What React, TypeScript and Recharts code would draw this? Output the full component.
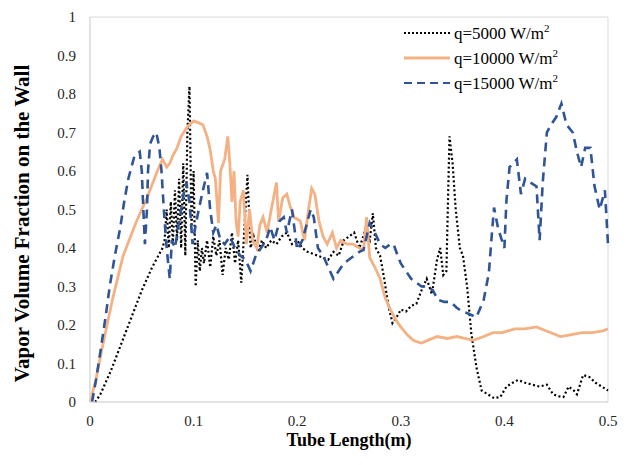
import { LineChart, Line, XAxis, YAxis, ReferenceArea } from 'recharts';

// q = 5000 W/m2 (dotted black)
const q5000X = [0.005, 0.01, 0.02, 0.03, 0.04, 0.05, 0.06, 0.07, 0.072, 0.074, 0.076, 0.078, 0.08, 0.082, 0.084, 0.086, 0.088, 0.09, 0.092, 0.094, 0.096, 0.098, 0.1, 0.102, 0.104, 0.106, 0.108, 0.11, 0.113, 0.116, 0.119, 0.122, 0.125, 0.128, 0.131, 0.134, 0.137, 0.14, 0.143, 0.146, 0.149, 0.152, 0.155, 0.158, 0.162, 0.166, 0.17, 0.175, 0.18, 0.185, 0.19, 0.195, 0.2, 0.205, 0.21, 0.215, 0.22, 0.225, 0.23, 0.235, 0.24, 0.245, 0.25, 0.255, 0.26, 0.265, 0.27, 0.273, 0.276, 0.28, 0.284, 0.288, 0.292, 0.296, 0.3, 0.305, 0.31, 0.315, 0.32, 0.325, 0.33, 0.335, 0.338, 0.341, 0.344, 0.347, 0.35, 0.353, 0.357, 0.36, 0.364, 0.368, 0.373, 0.378, 0.384, 0.39, 0.396, 0.402, 0.408, 0.413, 0.42, 0.427, 0.434, 0.441, 0.447, 0.452, 0.457, 0.462, 0.467, 0.47, 0.476, 0.482, 0.488, 0.494, 0.5];
const q5000Y = [0, 0.02, 0.08, 0.15, 0.22, 0.29, 0.35, 0.4, 0.42, 0.5, 0.4, 0.52, 0.41, 0.55, 0.42, 0.58, 0.4, 0.62, 0.38, 0.7, 0.82, 0.45, 0.6, 0.3, 0.42, 0.34, 0.4, 0.36, 0.42, 0.35, 0.43, 0.38, 0.42, 0.33, 0.4, 0.37, 0.44, 0.36, 0.42, 0.31, 0.45, 0.59, 0.4, 0.43, 0.39, 0.42, 0.4, 0.42, 0.41, 0.43, 0.44, 0.41, 0.42, 0.4, 0.39, 0.385, 0.38, 0.375, 0.37, 0.39, 0.38, 0.42, 0.43, 0.44, 0.4, 0.44, 0.42, 0.49, 0.4, 0.38, 0.32, 0.25, 0.205, 0.22, 0.24, 0.235, 0.25, 0.255, 0.29, 0.32, 0.28, 0.37, 0.4, 0.33, 0.34, 0.69, 0.62, 0.5, 0.4, 0.38, 0.3, 0.18, 0.09, 0.03, 0.02, 0.01, 0.013, 0.04, 0.05, 0.057, 0.05, 0.045, 0.04, 0.045, 0.02, 0.015, 0.013, 0.04, 0.03, 0.02, 0.07, 0.065, 0.05, 0.04, 0.03];

// q = 10000 W/m2 (solid orange)
const q10000X = [0, 0.005, 0.0125, 0.022, 0.032, 0.045, 0.055, 0.065, 0.07, 0.074, 0.077, 0.08, 0.084, 0.088, 0.094, 0.1, 0.105, 0.109, 0.113, 0.116, 0.119, 0.121, 0.124, 0.126, 0.13, 0.133, 0.135, 0.137, 0.139, 0.141, 0.143, 0.145, 0.148, 0.151, 0.154, 0.157, 0.161, 0.164, 0.167, 0.171, 0.175, 0.18, 0.182, 0.186, 0.19, 0.193, 0.197, 0.203, 0.207, 0.211, 0.214, 0.217, 0.221, 0.225, 0.229, 0.234, 0.238, 0.242, 0.248, 0.254, 0.26, 0.264, 0.267, 0.27, 0.275, 0.28, 0.285, 0.29, 0.296, 0.3, 0.306, 0.312, 0.316, 0.32, 0.326, 0.335, 0.345, 0.354, 0.362, 0.37, 0.38, 0.389, 0.398, 0.41, 0.42, 0.431, 0.44, 0.454, 0.465, 0.475, 0.485, 0.495, 0.5];
const q10000Y = [0, 0.05, 0.15, 0.27, 0.38, 0.47, 0.53, 0.6, 0.63, 0.61, 0.62, 0.64, 0.66, 0.69, 0.715, 0.73, 0.725, 0.72, 0.69, 0.655, 0.6, 0.58, 0.465, 0.6, 0.63, 0.69, 0.62, 0.52, 0.6, 0.47, 0.43, 0.52, 0.55, 0.41, 0.5, 0.42, 0.4, 0.46, 0.48, 0.44, 0.5, 0.57, 0.47, 0.53, 0.54, 0.51, 0.48, 0.47, 0.42, 0.5, 0.555, 0.54, 0.47, 0.43, 0.41, 0.44, 0.4, 0.42, 0.41, 0.41, 0.4, 0.395, 0.48, 0.375, 0.35, 0.32, 0.27, 0.24, 0.21, 0.195, 0.175, 0.16, 0.156, 0.153, 0.16, 0.17, 0.165, 0.17, 0.165, 0.16, 0.17, 0.18, 0.18, 0.19, 0.19, 0.195, 0.185, 0.17, 0.175, 0.18, 0.18, 0.185, 0.19];

// q = 15000 W/m2 (dashed blue)
const q15000X = [0.002, 0.006, 0.01, 0.015, 0.019, 0.024, 0.029, 0.033, 0.037, 0.043, 0.048, 0.05, 0.051, 0.053, 0.055, 0.056, 0.058, 0.061, 0.064, 0.067, 0.069, 0.072, 0.074, 0.077, 0.079, 0.082, 0.085, 0.088, 0.091, 0.093, 0.096, 0.099, 0.102, 0.105, 0.109, 0.113, 0.116, 0.119, 0.122, 0.126, 0.13, 0.135, 0.14, 0.145, 0.15, 0.155, 0.16, 0.165, 0.17, 0.174, 0.178, 0.183, 0.187, 0.19, 0.195, 0.2, 0.205, 0.21, 0.213, 0.216, 0.22, 0.225, 0.23, 0.235, 0.24, 0.245, 0.25, 0.255, 0.26, 0.264, 0.27, 0.275, 0.28, 0.285, 0.29, 0.293, 0.297, 0.3, 0.305, 0.31, 0.315, 0.32, 0.325, 0.331, 0.336, 0.342, 0.348, 0.354, 0.359, 0.365, 0.373, 0.38, 0.385, 0.388, 0.39, 0.394, 0.4, 0.402, 0.405, 0.412, 0.416, 0.42, 0.425, 0.431, 0.434, 0.437, 0.441, 0.445, 0.45, 0.455, 0.46, 0.466, 0.47, 0.474, 0.478, 0.483, 0.487, 0.492, 0.497, 0.5];
const q15000Y = [0, 0.06, 0.13, 0.22, 0.3, 0.38, 0.45, 0.52, 0.58, 0.64, 0.65, 0.6, 0.53, 0.41, 0.5, 0.6, 0.67, 0.69, 0.7, 0.66, 0.6, 0.47, 0.4, 0.32, 0.42, 0.4, 0.45, 0.5, 0.55, 0.57, 0.52, 0.41, 0.46, 0.5, 0.55, 0.595, 0.5, 0.44, 0.46, 0.42, 0.41, 0.43, 0.4, 0.38, 0.37, 0.34, 0.38, 0.4, 0.42, 0.455, 0.42, 0.47, 0.48, 0.44, 0.5, 0.395, 0.42, 0.47, 0.5, 0.48, 0.4, 0.38, 0.35, 0.32, 0.34, 0.36, 0.37, 0.38, 0.39, 0.395, 0.465, 0.44, 0.41, 0.4, 0.41, 0.41, 0.38, 0.36, 0.34, 0.32, 0.31, 0.3, 0.3, 0.29, 0.265, 0.26, 0.26, 0.245, 0.235, 0.23, 0.22, 0.265, 0.335, 0.44, 0.505, 0.45, 0.4, 0.525, 0.61, 0.63, 0.54, 0.58, 0.57, 0.56, 0.42, 0.57, 0.7, 0.72, 0.74, 0.775, 0.72, 0.7, 0.65, 0.61, 0.66, 0.66, 0.56, 0.5, 0.55, 0.41];

const xTicks = [0, 0.1, 0.2, 0.3, 0.4, 0.5];
const yTicks = [0, 0.1, 0.2, 0.3, 0.4, 0.5, 0.6, 0.7, 0.8, 0.9, 1];

const toPoints = (xs: number[], ys: number[]) => xs.map((x, i) => ({ x, y: ys[i] }));

const series = [
    { name: '5000', data: toPoints(q5000X, q5000Y), color: '#000000', dash: '2 2.5', width: 2.2, legendDash: '2 2' },
    { name: '10000', data: toPoints(q10000X, q10000Y), color: '#F4B183', dash: undefined, width: 2.8, legendDash: undefined },
    { name: '15000', data: toPoints(q15000X, q15000Y), color: '#2F5597', dash: '9 6', width: 2.6, legendDash: '8 5' },
];

const serif = '"Liberation Serif", "Times New Roman", serif';
const tickStyle = { fontFamily: serif, fontSize: 15, fill: '#262626' };

function XTick({ x, y, payload }: any) {
    return (
        <text x={x} y={y + 8} textAnchor="middle" dominantBaseline="hanging" style={tickStyle}>
            {payload.value}
        </text>
    );
}

function YTick({ x, y, payload }: any) {
    return (
        <text x={x} y={y} textAnchor="end" dominantBaseline="central" style={tickStyle}>
            {payload.value}
        </text>
    );
}

function LegendBox() {
    return (
        <div style={{ position: 'absolute', left: 404, top: 20, background: '#fff', fontFamily: serif, fontSize: 17, color: '#000' }}>
            {series.map((s) => (
                <div key={s.name} style={{ display: 'flex', alignItems: 'center', height: 25 }}>
                    <svg width={46} height={10} style={{ marginRight: 4 }}>
                        <line x1={0} y1={5} x2={46} y2={5} stroke={s.color} strokeWidth={s.legendDash ? 2 : 3}
                            strokeDasharray={s.legendDash} />
                    </svg>
                    <span>q={s.name} W/m<sup style={{ fontSize: 11 }}>2</sup></span>
                </div>
            ))}
        </div>
    );
}

export default function App() {
    return (
        <div style={{ position: 'absolute', left: 0, top: 0, width: 629, height: 465, background: '#fff', fontFamily: serif }}>
            <LineChart width={629} height={465} margin={{ top: 17, right: 21, left: 0, bottom: 0 }}>
                <XAxis
                    dataKey="x"
                    type="number"
                    domain={[0, 0.5]}
                    ticks={xTicks}
                    allowDuplicatedCategory={false}
                    height={63}
                    axisLine={{ stroke: '#d9d9d9' }}
                    tickLine={false}
                    tickSize={0}
                    tickMargin={6}
                    tick={<XTick />}
                    label={{
                        content: ({ viewBox }: any) => (
                            <text x={viewBox.x + viewBox.width / 2} y={viewBox.y + 44} textAnchor="middle"
                                style={{ fontFamily: serif, fontWeight: 'bold', fontSize: 18, fill: '#000' }}>
                                Tube Length(m)
                            </text>
                        ),
                    }}
                />
                <YAxis
                    type="number"
                    domain={[0, 1]}
                    ticks={yTicks}
                    width={90}
                    axisLine={{ stroke: '#d9d9d9' }}
                    tickLine={false}
                    tickSize={0}
                    tickMargin={14}
                    tick={<YTick />}
                    label={{
                        content: ({ viewBox }: any) => {
                            const cx = viewBox.x + 22;
                            const cy = viewBox.y + viewBox.height / 2 + 14;
                            return (
                                <text x={cx} y={cy} transform={`rotate(-90, ${cx}, ${cy})`} textAnchor="middle"
                                    dominantBaseline="central"
                                    style={{ fontFamily: serif, fontWeight: 'bold', fontSize: 21, fill: '#000' }}>
                                    Vapor Volume Fraction on the Wall
                                </text>
                            );
                        },
                    }}
                />
                <ReferenceArea x1={0} x2={0.5} y1={0} y2={1} fill="none" stroke="#d9d9d9" strokeWidth={1} />
                {series.map((s) => (
                    <Line
                        key={s.name}
                        data={s.data}
                        dataKey="y"
                        name={s.name}
                        type="linear"
                        stroke={s.color}
                        strokeWidth={s.width}
                        strokeDasharray={s.dash}
                        dot={false}
                        activeDot={false}
                        isAnimationActive={false}
                    />
                ))}
            </LineChart>
            <LegendBox />
        </div>
    );
}
